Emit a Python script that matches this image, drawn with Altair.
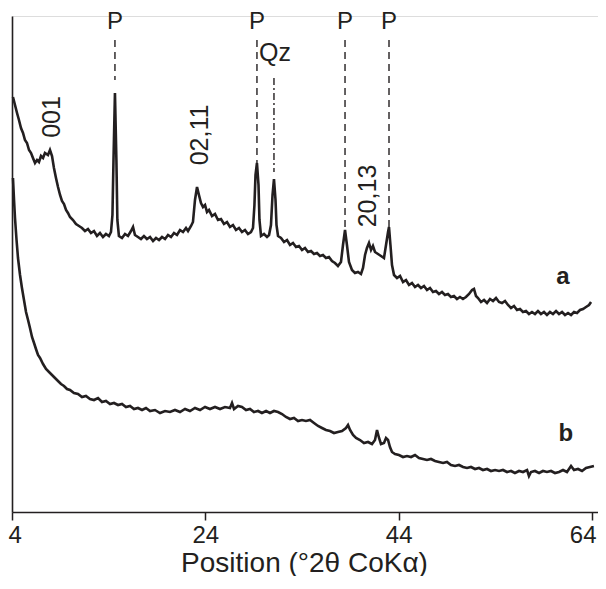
import altair as alt
import pandas as pd

# ---- data ----
a_x = [4.10,4.31,4.52,4.72,4.93,5.14,5.34,5.55,5.76,5.97,6.17,6.38,6.59,6.79,7.00,7.21,7.41,7.72,7.93,8.14,
       8.34,8.55,8.76,8.97,9.17,9.38,9.59,9.79,10.00,10.31,10.62,10.93,11.24,11.55,11.86,12.17,12.48,12.79,13.10,13.41,
       13.72,14.03,14.24,14.39,14.50,14.65,14.80,14.90,15.06,15.38,15.69,16.00,16.31,16.52,16.72,17.03,17.34,17.65,17.96,18.28,
       18.59,18.90,19.21,19.52,19.83,20.14,20.45,20.76,21.07,21.38,21.69,22.00,22.21,22.52,22.72,22.93,23.14,23.34,23.55,23.76,
       23.97,24.17,24.38,24.69,25.00,25.31,25.62,25.93,26.24,26.55,26.86,27.17,27.48,27.79,28.10,28.41,28.72,28.93,29.08,29.19,
       29.34,29.50,29.60,29.76,30.07,30.38,30.59,30.79,30.95,31.10,31.26,31.36,31.52,31.83,32.14,32.45,32.76,33.07,33.38,33.69,
       34.00,34.31,34.62,34.93,35.24,35.55,35.86,36.17,36.48,36.79,37.10,37.41,37.72,38.03,38.24,38.45,38.65,38.86,39.17,39.48,
       39.79,40.10,40.31,40.52,40.72,40.93,41.14,41.34,41.55,41.86,42.17,42.48,42.69,42.90,43.00,43.15,43.31,43.52,43.83,44.14,
       44.45,44.76,45.07,45.38,45.69,46.00,46.31,46.62,46.93,47.24,47.55,47.86,48.17,48.48,48.79,49.10,49.41,49.72,50.03,50.34,
       50.65,50.96,51.28,51.59,51.79,52.00,52.21,52.52,52.83,53.14,53.45,53.76,54.07,54.38,54.69,55.00,55.31,55.62,55.93,56.24,
       56.55,56.86,57.17,57.48,57.79,58.10,58.41,58.72,59.03,59.34,59.65,59.96,60.28,60.59,60.90,61.21,61.52,61.83,62.14,62.45,
       62.76,63.07,63.38,63.69,63.90]
a_y = [420,412,404,397,389,384,377,374,367,364,359,354,357,355,361,359,364,362,367,361,
       349,339,330,322,316,313,307,304,300,297,293,291,289,286,288,284,286,281,284,280,
       283,281,285,302,357,424,357,297,281,279,283,281,286,290,282,280,278,281,278,280,
       276,279,277,280,278,282,280,284,282,287,285,289,286,291,295,317,330,322,314,310,
       312,305,307,301,303,297,298,293,295,290,292,287,289,285,287,283,285,289,312,342,
       354,332,297,281,283,280,282,292,322,338,317,292,281,279,275,277,272,274,270,271,
       267,269,265,266,263,264,261,262,259,260,256,254,251,255,272,287,272,255,247,244,
       245,243,249,262,269,274,267,271,265,263,261,259,272,285,290,272,252,242,239,241,
       235,237,232,234,230,232,229,231,227,229,225,226,223,225,222,223,220,221,218,220,
       218,220,223,227,228,221,219,215,217,214,218,216,219,215,214,216,212,209,211,207,
       208,205,206,203,205,203,206,203,205,202,205,203,206,203,205,202,204,202,205,204,
       207,208,210,212,215]

b_x = [4.10,4.21,4.31,4.47,4.62,4.83,5.03,5.24,5.45,5.66,5.86,6.07,6.28,6.48,6.69,6.90,7.21,7.52,7.83,8.14,
       8.45,8.76,9.07,9.38,9.69,10.00,10.41,10.83,11.24,11.65,12.07,12.48,12.90,13.31,13.72,14.14,14.55,14.97,15.38,15.79,
       16.21,16.62,17.03,17.45,17.86,18.28,18.79,19.31,19.83,20.34,20.86,21.38,21.90,22.41,22.93,23.45,23.97,24.48,25.00,25.52,
       26.03,26.55,26.76,26.97,27.38,27.79,28.21,28.62,29.03,29.45,29.86,30.28,30.69,31.10,31.52,31.93,32.34,32.76,33.17,33.59,
       34.00,34.41,34.83,35.24,35.66,36.07,36.48,36.90,37.31,37.72,38.14,38.55,38.76,38.97,39.28,39.59,40.00,40.41,40.83,41.24,
       41.55,41.76,41.97,42.17,42.48,42.69,42.90,43.10,43.31,43.62,44.03,44.45,44.86,45.28,45.69,46.10,46.52,46.93,47.34,47.76,
       48.17,48.59,49.00,49.41,49.83,50.24,50.66,51.07,51.48,51.90,52.31,52.72,53.14,53.55,53.97,54.38,54.79,55.21,55.62,56.03,
       56.45,56.86,57.28,57.48,57.69,58.10,58.52,58.93,59.34,59.76,60.17,60.59,61.00,61.41,61.83,62.14,62.55,62.97,63.38,63.79,
       64.20]
b_y = [339,317,299,277,259,242,229,217,205,197,189,180,174,168,162,159,153,148,145,142,
       139,136,133,131,128,127,124,123,120,121,118,117,119,115,116,113,114,112,113,110,
       111,108,109,107,109,106,107,104,106,105,107,105,108,106,109,107,110,108,110,108,
       110,109,114,108,111,110,107,108,105,106,104,106,104,106,105,103,100,98,99,96,
       97,96,97,94,91,89,87,86,84,85,86,89,92,87,82,79,77,74,75,73,
       77,87,79,73,74,79,77,70,65,63,62,60,61,60,62,59,58,57,58,56,
       55,54,55,52,51,52,50,49,50,48,49,47,48,46,47,46,47,45,46,44,
       46,45,47,41,45,46,44,46,45,46,44,45,47,45,51,47,48,46,49,50,
       51]

rule_x = [14.65, 29.34, 38.45, 43.00]
rule_top = [477, 477, 477, 477]
rule_bottom = [437, 354, 287, 290]
p_labels = ["P", "P", "P", "P"]
p_label_y = [495, 495, 495, 495]

qz_x = [31.10]
qz_top = [439]
qz_bottom = [345]
qz_label = ["Qz"]
qz_label_x = [31.2]
qz_label_y = [464]

hkl_labels = ["001", "02,11", "20,13"]
hkl_x = [8.14, 23.45, 40.83]
hkl_y = [400, 382, 321]

curve_labels = ["a", "b"]
curve_label_x = [61.0, 61.3]
curve_label_y = [240, 83]

x_ticks = [4, 24, 44, 64]

INK = "#231f20"
FONT = "Liberation Sans"

df_a = pd.DataFrame({"x": a_x, "y": a_y})
df_b = pd.DataFrame({"x": b_x, "y": b_y})
df_rules = pd.DataFrame({"x": rule_x, "y": rule_top, "y2": rule_bottom, "t": p_labels, "ty": p_label_y})
df_qz = pd.DataFrame({"x": qz_x, "y": qz_top, "y2": qz_bottom, "t": qz_label, "tx": qz_label_x, "ty": qz_label_y})
df_hkl = pd.DataFrame({"x": hkl_x, "y": hkl_y, "t": hkl_labels})
df_cl = pd.DataFrame({"x": curve_label_x, "y": curve_label_y, "t": curve_labels})

# plot area: 586 px wide (9.667 px per degree), 496 px tall (1 px per intensity unit)
xs = alt.Scale(domain=[4, 64.62], nice=False, zero=False)
ys = alt.Scale(domain=[5, 501], nice=False, zero=False)

x_axis = alt.Axis(values=x_ticks, tickSize=8, tickWidth=1.5, tickColor=INK, domainColor=INK, domainWidth=1.6,
                  labelFont=FONT, labelFontSize=24, labelColor=INK, labelPadding=3,
                  labelFlush=7, labelFlushOffset=4,
                  grid=False, title="Position (°2θ CoKα)", titleFont=FONT, titleFontSize=28,
                  titleFontWeight="normal", titleColor=INK, titleBaseline="alphabetic", titleY=59,
                  titleX=292, titleAnchor="middle")
y_axis = alt.Axis(labels=False, ticks=False, grid=False, title=None, domainColor=INK, domainWidth=1.6)

line_a = alt.Chart(df_a).mark_line(color=INK, strokeWidth=2.6, interpolate="linear").encode(
    x=alt.X("x:Q", scale=xs, axis=x_axis),
    y=alt.Y("y:Q", scale=ys, axis=y_axis),
)
line_b = alt.Chart(df_b).mark_line(color=INK, strokeWidth=2.6).encode(
    x=alt.X("x:Q", scale=xs), y=alt.Y("y:Q", scale=ys)
)
rules = alt.Chart(df_rules).mark_rule(color=INK, strokeWidth=1.4, strokeDash=[7, 5]).encode(
    x=alt.X("x:Q", scale=xs), y=alt.Y("y:Q", scale=ys), y2="y2:Q"
)
p_text = alt.Chart(df_rules).mark_text(font=FONT, fontSize=24, color=INK, baseline="middle", align="center").encode(
    x=alt.X("x:Q", scale=xs), y=alt.Y("ty:Q", scale=ys), text="t:N"
)
qz_rule = alt.Chart(df_qz).mark_rule(color=INK, strokeWidth=1.4, strokeDash=[7, 3, 2, 3]).encode(
    x=alt.X("x:Q", scale=xs), y=alt.Y("y:Q", scale=ys), y2="y2:Q"
)
qz_text = alt.Chart(df_qz).mark_text(font=FONT, fontSize=25, color=INK, baseline="middle", align="center").encode(
    x=alt.X("tx:Q", scale=xs), y=alt.Y("ty:Q", scale=ys), text="t:N"
)
hkl_text = alt.Chart(df_hkl).mark_text(font=FONT, fontSize=25, color=INK, baseline="middle", align="center",
                                       angle=270).encode(
    x=alt.X("x:Q", scale=xs), y=alt.Y("y:Q", scale=ys), text="t:N"
)
cl_text = alt.Chart(df_cl).mark_text(font=FONT, fontSize=24, fontWeight="bold", color=INK, baseline="middle",
                                     align="center").encode(
    x=alt.X("x:Q", scale=xs), y=alt.Y("y:Q", scale=ys), text="t:N"
)

chart = alt.layer(line_a, line_b, rules, p_text, qz_rule, qz_text, hkl_text, cl_text).properties(
    width=586, height=496,
    autosize=alt.AutoSizeParams(type="none"),
    padding={"left": 4, "top": 8, "right": 0, "bottom": 64},
).configure_view(stroke=None).configure(background="white")

chart.save("out.html", embed_options={"renderer": "svg", "actions": False})
